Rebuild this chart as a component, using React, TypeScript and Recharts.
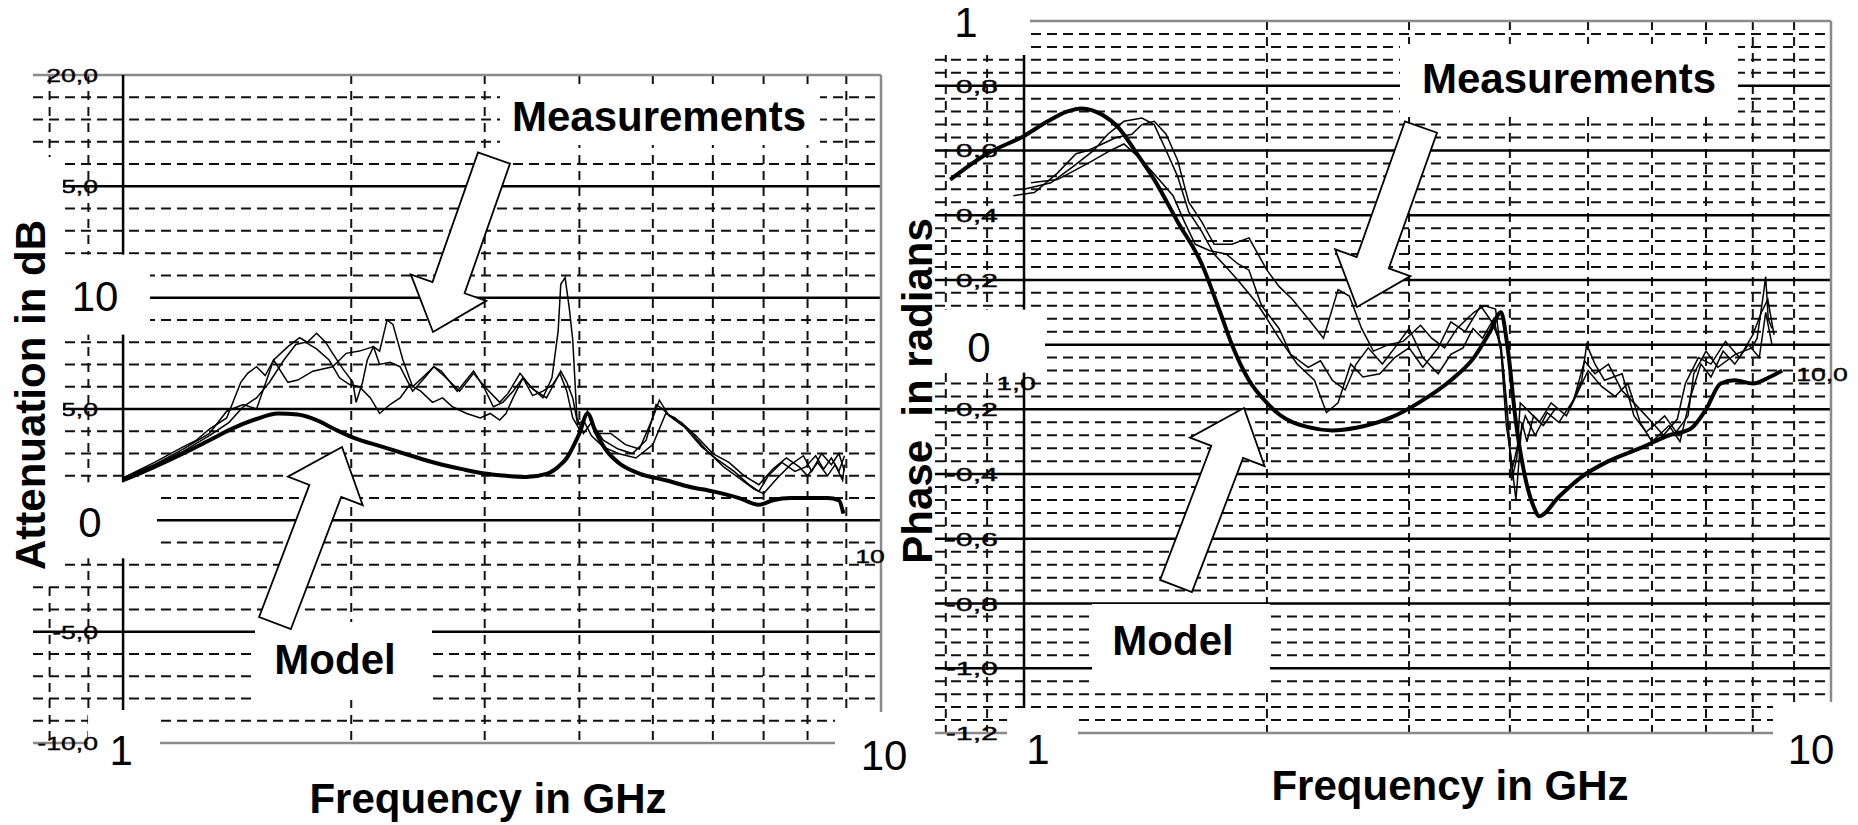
import React from "react";
import { CartesianGrid, Line, LineChart, XAxis, YAxis } from "recharts";

type Pt = { f: number; v: number };
const pts = (rows: number[][]): Pt[] => rows.map(([f, v]) => ({ f, v }));

// ---- attenuation panel (dB vs GHz) ----
const attModel = pts([
  [1.0, 1.8], [1.05, 2.1], [1.1, 2.4], [1.15, 2.7], [1.2, 3.0], [1.3, 3.6], [1.4, 4.15], [1.5, 4.55],
  [1.6, 4.8], [1.7, 4.75], [1.8, 4.5], [1.9, 4.1], [2.0, 3.75], [2.2, 3.3], [2.4, 2.9], [2.6, 2.55],
  [2.8, 2.3], [3.0, 2.1], [3.2, 2.0], [3.4, 1.95], [3.63, 2.1], [3.75, 2.4], [3.85, 2.8], [3.95, 3.5],
  [4.0, 3.9], [4.1, 4.8], [4.2, 4.0], [4.35, 3.1], [4.5, 2.6], [4.8, 2.1], [5.2, 1.8], [5.6, 1.5],
  [6.0, 1.3], [6.5, 1.0], [6.9, 0.7], [7.2, 0.9], [7.6, 1.0], [8.0, 1.0], [8.5, 1.0], [8.8, 0.9], [8.92, 0.3],
]);

const attMeas1 = pts([
  [1.0, 1.9], [1.1, 2.6], [1.2, 3.3], [1.25, 3.6], [1.3, 4.1], [1.37, 4.6], [1.43, 6.2], [1.46, 6.6],
  [1.5, 6.9], [1.54, 6.5], [1.58, 7.2], [1.65, 7.8], [1.71, 8.2], [1.75, 8.0], [1.8, 8.4], [1.85, 8.0],
  [1.89, 7.5], [1.95, 6.8], [2.01, 6.2], [2.03, 5.3], [2.07, 6.2], [2.1, 7.2], [2.14, 7.8], [2.18, 7.6],
  [2.23, 9.0], [2.27, 8.8], [2.34, 7.2], [2.41, 6.0], [2.5, 6.5], [2.57, 6.9], [2.65, 6.5], [2.78, 5.8],
  [2.9, 6.6], [3.0, 6.0], [3.14, 5.3], [3.22, 5.7], [3.34, 6.6], [3.45, 6.0], [3.58, 5.5], [3.68, 6.4],
  [3.75, 8.5], [3.78, 10.6], [3.83, 10.9], [3.88, 9.5], [3.92, 8.1], [3.97, 4.6], [4.05, 3.9], [4.15, 4.4],
  [4.3, 3.6], [4.5, 3.2], [4.7, 3.0], [4.9, 3.6], [5.05, 5.2], [5.15, 5.0], [5.3, 4.6], [5.5, 4.2],
  [5.8, 3.3], [6.1, 2.7], [6.4, 2.2], [6.7, 1.6], [6.9, 1.3], [7.1, 2.0], [7.4, 2.6], [7.7, 2.2],
  [7.95, 2.4], [8.2, 2.9], [8.4, 2.3], [8.6, 2.8], [8.8, 2.2], [8.95, 2.9],
]);

const attMeas2 = pts([
  [1.0, 1.9], [1.1, 2.5], [1.2, 3.2], [1.3, 3.9], [1.37, 4.9], [1.44, 5.2], [1.5, 5.0], [1.58, 7.2],
  [1.65, 6.2], [1.7, 6.3], [1.78, 6.7], [1.89, 6.9], [1.97, 7.5], [2.05, 7.6], [2.14, 7.8], [2.18, 7.0],
  [2.25, 7.1], [2.32, 6.9], [2.41, 5.8], [2.5, 6.4], [2.57, 6.9], [2.63, 6.7], [2.76, 5.8], [2.9, 6.7],
  [3.0, 5.9], [3.08, 5.1], [3.17, 5.3], [3.27, 5.8], [3.37, 6.4], [3.47, 5.6], [3.58, 5.8], [3.69, 6.1],
  [3.77, 6.6], [3.85, 5.8], [3.92, 4.6], [4.0, 4.1], [4.1, 4.9], [4.2, 3.9], [4.4, 3.9], [4.6, 3.4],
  [4.8, 3.2], [5.0, 4.6], [5.1, 5.4], [5.25, 4.7], [5.45, 4.4], [5.7, 3.8], [6.0, 3.0], [6.3, 2.6],
  [6.6, 2.0], [6.9, 1.6], [7.2, 2.3], [7.5, 2.8], [7.8, 2.4], [8.0, 2.0], [8.25, 2.6], [8.5, 2.0],
  [8.7, 2.5], [8.9, 1.8], [8.95, 2.5],
]);

const attMeas3 = pts([
  [1.0, 1.9], [1.1, 2.5], [1.2, 3.1], [1.3, 3.8], [1.38, 4.4], [1.44, 5.1], [1.5, 5.5], [1.56, 6.2],
  [1.63, 7.2], [1.69, 7.9], [1.74, 8.0], [1.8, 7.7], [1.87, 7.2], [1.93, 6.4], [1.99, 6.1], [2.05, 6.0],
  [2.12, 5.5], [2.18, 4.8], [2.25, 5.2], [2.32, 5.5], [2.39, 6.1], [2.47, 5.8], [2.56, 5.3], [2.64, 5.5],
  [2.72, 5.1], [2.84, 4.8], [2.96, 4.6], [3.05, 4.8], [3.14, 4.5], [3.2, 4.8], [3.27, 5.5], [3.37, 6.4],
  [3.47, 5.9], [3.62, 5.5], [3.7, 6.1], [3.78, 6.7], [3.85, 6.2], [3.92, 5.5], [3.98, 4.3], [4.05, 4.5],
  [4.15, 3.8], [4.3, 3.3], [4.5, 3.0], [4.75, 2.8], [5.0, 3.4], [5.2, 4.8], [5.35, 4.6], [5.6, 4.0],
  [5.9, 3.1], [6.2, 2.4], [6.5, 1.9], [6.8, 1.4], [7.0, 1.2], [7.3, 1.9], [7.6, 2.5], [7.9, 2.9],
  [8.1, 2.2], [8.35, 3.0], [8.6, 2.5], [8.8, 3.0], [8.95, 2.2],
]);

// ---- phase panel (rad vs GHz) ----
const phaseModel = pts([
  [0.81, 0.51], [0.9, 0.59], [1.0, 0.645], [1.07, 0.69], [1.13, 0.72], [1.18, 0.73], [1.25, 0.71],
  [1.31, 0.67], [1.38, 0.59], [1.45, 0.51], [1.55, 0.38], [1.66, 0.25], [1.75, 0.1], [1.81, 0.0],
  [1.9, -0.11], [2.0, -0.18], [2.07, -0.215], [2.25, -0.255], [2.41, -0.265], [2.58, -0.257],
  [2.85, -0.225], [3.1, -0.176], [3.38, -0.11], [3.61, -0.04], [3.78, 0.04], [3.9, 0.1], [3.97, 0.0],
  [4.07, -0.24], [4.17, -0.4], [4.28, -0.5], [4.35, -0.53], [4.6, -0.47], [4.9, -0.41], [5.3, -0.36],
  [5.8, -0.32], [6.3, -0.28], [6.7, -0.26], [7.0, -0.2], [7.3, -0.12], [7.6, -0.11], [8.0, -0.12],
  [8.4, -0.1], [8.7, -0.08],
]);

const phaseMeas1 = pts([
  [0.97, 0.46], [1.03, 0.47], [1.1, 0.53], [1.16, 0.59], [1.2, 0.6], [1.25, 0.62], [1.3, 0.64],
  [1.36, 0.65], [1.4, 0.68], [1.45, 0.69], [1.5, 0.65], [1.55, 0.57], [1.6, 0.44], [1.66, 0.38],
  [1.72, 0.31], [1.81, 0.31], [1.9, 0.33], [2.0, 0.23], [2.07, 0.18], [2.15, 0.14], [2.25, 0.08],
  [2.35, 0.02], [2.45, 0.17], [2.53, 0.15], [2.62, 0.05], [2.71, -0.02], [2.83, 0.0], [2.95, 0.01],
  [3.1, 0.06], [3.2, 0.02], [3.32, -0.01], [3.44, 0.05], [3.61, 0.1], [3.72, 0.12], [3.84, 0.11],
  [3.93, -0.09], [4.0, -0.32], [4.07, -0.48], [4.14, -0.24], [4.2, -0.3], [4.28, -0.22], [4.4, -0.25],
  [4.55, -0.2], [4.74, -0.2], [4.91, -0.11], [4.98, 0.0], [5.1, -0.06], [5.24, -0.11], [5.51, -0.09],
  [5.7, -0.22], [5.9, -0.27], [6.1, -0.24], [6.22, -0.22], [6.43, -0.27], [6.65, -0.22], [6.76, -0.09],
  [7.0, -0.02], [7.24, -0.07], [7.61, -0.03], [7.98, -0.01], [8.1, 0.02], [8.24, 0.15], [8.3, 0.21],
  [8.36, 0.08], [8.45, 0.05],
]);

const phaseMeas2 = pts([
  [1.0, 0.48], [1.08, 0.5], [1.15, 0.55], [1.22, 0.6], [1.27, 0.65], [1.33, 0.69], [1.4, 0.7],
  [1.45, 0.68], [1.5, 0.6], [1.55, 0.52], [1.6, 0.41], [1.66, 0.35], [1.72, 0.28], [1.78, 0.24],
  [1.84, 0.2], [1.94, 0.13], [2.0, 0.08], [2.07, 0.02], [2.18, -0.06], [2.29, -0.11], [2.37, -0.21],
  [2.45, -0.18], [2.54, -0.06], [2.63, -0.1], [2.76, -0.09], [2.88, -0.04], [3.0, -0.01], [3.12, -0.07],
  [3.26, -0.01], [3.38, 0.07], [3.52, 0.04], [3.68, 0.12], [3.8, 0.07], [3.9, 0.0], [3.97, -0.2],
  [4.02, -0.42], [4.08, -0.35], [4.12, -0.18], [4.2, -0.2], [4.35, -0.24], [4.5, -0.18], [4.7, -0.22],
  [4.85, -0.15], [5.0, -0.08], [5.2, -0.13], [5.4, -0.16], [5.6, -0.12], [5.8, -0.24], [6.0, -0.3],
  [6.3, -0.25], [6.5, -0.3], [6.7, -0.16], [6.9, -0.06], [7.1, -0.1], [7.35, -0.02], [7.6, -0.06],
  [7.9, 0.0], [8.15, -0.04], [8.3, 0.1], [8.45, 0.0],
]);

const phaseMeas3 = pts([
  [1.02, 0.5], [1.1, 0.51], [1.2, 0.56], [1.28, 0.6], [1.33, 0.62], [1.4, 0.57], [1.47, 0.51],
  [1.53, 0.46], [1.58, 0.38], [1.63, 0.31], [1.7, 0.29], [1.78, 0.28], [1.84, 0.25], [1.9, 0.23],
  [1.97, 0.12], [2.07, 0.05], [2.14, -0.03], [2.25, -0.07], [2.33, -0.05], [2.41, -0.11], [2.5, -0.14],
  [2.58, -0.06], [2.67, -0.01], [2.78, -0.06], [2.9, 0.0], [3.0, 0.05], [3.12, -0.04], [3.26, -0.09],
  [3.38, -0.03], [3.5, -0.01], [3.6, 0.05], [3.7, 0.02], [3.82, 0.08], [3.9, -0.02], [3.96, -0.25],
  [4.03, -0.38], [4.1, -0.3], [4.18, -0.22], [4.3, -0.28], [4.45, -0.21], [4.6, -0.24], [4.8, -0.17],
  [4.95, -0.05], [5.1, -0.09], [5.3, -0.06], [5.5, -0.14], [5.75, -0.19], [6.0, -0.24], [6.2, -0.28],
  [6.45, -0.23], [6.6, -0.12], [6.85, -0.04], [7.1, -0.06], [7.4, 0.01], [7.7, -0.04], [8.0, 0.03],
  [8.2, 0.1], [8.35, 0.14], [8.5, 0.03],
]);

// ---- ticks / grid values ----
const freqTicks = [1, 10];
const freqMinor = [0.8, 0.9, 2, 3, 4, 5, 6, 7, 8, 9];

const attTicks = [-10, -5, 0, 5, 10, 15, 20];
const attSolid = [-5, 0, 5, 10, 15];
const attEdge = [-10, 20];
const attMinor = [-9, -8, -7, -6, -4, -3, -2, -1, 1, 2, 3, 4, 6, 7, 8, 9, 11, 12, 13, 14, 16, 17, 18, 19];

const phaseTicks = [-1.2, -1.0, -0.8, -0.6, -0.4, -0.2, 0, 0.2, 0.4, 0.6, 0.8, 1.0];
const phaseSolid = [-1.0, -0.8, -0.6, -0.4, -0.2, 0, 0.2, 0.4, 0.6, 0.8];
const phaseEdge = [-1.2, 1.0];
const phaseMinor = [
  -1.16, -1.12, -1.08, -1.04, -0.96, -0.92, -0.88, -0.84, -0.76, -0.72, -0.68, -0.64,
  -0.56, -0.52, -0.48, -0.44, -0.36, -0.32, -0.28, -0.24, -0.16, -0.12, -0.08, -0.04,
  0.04, 0.08, 0.12, 0.16, 0.24, 0.28, 0.32, 0.36, 0.44, 0.48, 0.52, 0.56,
  0.64, 0.68, 0.72, 0.76, 0.84, 0.88, 0.92, 0.96,
];

const FONT = "'Liberation Sans', Arial, Helvetica, sans-serif";

type Box = { text: string; x0: number; x1: number; y0: number; y1: number; dx: number; dy: number };

function bigLabel(x: number, y: number, b: Box) {
  return (
    <g>
      <rect x={x + b.x0} y={y + b.y0} width={b.x1 - b.x0} height={b.y1 - b.y0} fill="#fff" />
      <text x={x + b.dx} y={y + b.dy + 15} textAnchor="middle" fontFamily={FONT} fontSize={42} fill="#000">
        {b.text}
      </text>
    </g>
  );
}

const excel = (v: number) => v.toFixed(1).replace(".", ",");

function makeYTick(big: Record<string, Box>, smallX: number, stretch: number) {
  return (props: any) => {
    const { x, y, payload } = props;
    const b = big[String(payload.value)];
    if (b) return bigLabel(x, y, b);
    return (
      <text
        transform={`translate(${x + smallX},${y + 7}) scale(${stretch},1)`}
        textAnchor="end"
        fontFamily={FONT}
        fontSize={19}
        fill="#000"
        stroke="#000"
        strokeWidth={0.4}
      >
        {excel(payload.value)}
      </text>
    );
  };
}

function makeXTick(big: Record<string, Box>) {
  return (props: any) => {
    const { x, y, payload } = props;
    const b = big[String(payload.value)];
    return b ? bigLabel(x, y, b) : <g />;
  };
}

const attYTick = makeYTick(
  {
    "10": { text: "10", x0: 24, x1: 117, y0: -43, y1: 37, dx: 62, dy: -2 },
    "0": { text: "0", x0: 24, x1: 124, y0: -38, y1: 38, dx: 57, dy: 2 },
  },
  65,
  1.4
);
const attXTick = makeXTick({
  "1": { text: "1", x0: -35, x1: 37, y0: -33, y1: 82, dx: -2, dy: 7 },
  "10": { text: "10", x0: -46, x1: 49, y0: -31, y1: 82, dx: 3, dy: 12 },
});
const phaseYTick = makeYTick(
  {
    "1": { text: "1", x0: -5, x1: 95, y0: -21, y1: 34, dx: 31, dy: 1 },
    "0": { text: "0", x0: -5, x1: 110, y0: -35, y1: 28, dx: 44, dy: 2 },
  },
  63,
  1.6
);
const phaseXTick = makeXTick({
  "1": { text: "1", x0: -17, x1: 54, y0: -25, y1: 92, dx: 14, dy: 16 },
  "10": { text: "10", x0: -58, x1: 27, y0: -31, y1: 92, dx: -20, dy: 16 },
});

function arrowPoints(tx: number, ty: number, px: number, py: number) {
  const s = 17, h = 40, L = 47;
  const len = Math.hypot(px - tx, py - ty);
  const ux = (px - tx) / len, uy = (py - ty) / len;
  const nx = -uy, ny = ux;
  const bx = px - ux * L, by = py - uy * L;
  const p = [
    [tx + nx * s, ty + ny * s], [bx + nx * s, by + ny * s], [bx + nx * h, by + ny * h], [px, py],
    [bx - nx * h, by - ny * h], [bx - nx * s, by - ny * s], [tx - nx * s, ty - ny * s],
  ];
  return p.map((q) => q.map((n) => n.toFixed(1)).join(",")).join(" ");
}

const titleStyle = { fontFamily: FONT, fontSize: 42, fontWeight: 700, fill: "#000" } as const;
const smallStyle = { fontFamily: FONT, fontSize: 19, fill: "#000", stroke: "#000", strokeWidth: 0.4 } as const;

function Panel({
  left, width, margin, xMin, yDomain, yTicks, solid, edge, minor, model, meas, xTick, yTick,
}: any) {
  return (
    <div style={{ position: "absolute", left, top: 0 }}>
      <LineChart width={width} height={825} margin={margin}>
        <CartesianGrid horizontal vertical={false} horizontalValues={minor} stroke="#111" strokeWidth={2} strokeDasharray="10 6" />
        <CartesianGrid horizontal={false} vertical verticalValues={freqMinor} stroke="#111" strokeWidth={2} strokeDasharray="9 7" />
        <CartesianGrid horizontal vertical={false} horizontalValues={solid} stroke="#000" strokeWidth={2.5} />
        <CartesianGrid horizontal vertical horizontalValues={edge} verticalValues={[10]} stroke="#8a8a8a" strokeWidth={2.5} />
        <CartesianGrid horizontal={false} vertical verticalValues={[1]} stroke="#000" strokeWidth={2.5} />
        {meas.map((d: Pt[], i: number) => (
          <Line key={i} data={d} dataKey="v" type="linear" stroke="#000" strokeWidth={1.5} dot={false} isAnimationActive={false} />
        ))}
        <Line data={model} dataKey="v" type="monotone" stroke="#000" strokeWidth={4} dot={false} isAnimationActive={false} />
        <XAxis
          type="number" dataKey="f" scale="log" domain={[xMin, 10]} allowDataOverflow ticks={freqTicks} interval={0}
          height={1} tickSize={0} tickMargin={0} axisLine={false} tickLine={false} tick={xTick}
        />
        <YAxis
          type="number" domain={yDomain} allowDataOverflow ticks={yTicks} interval={0}
          width={1} tickSize={0} tickMargin={0} axisLine={false} tickLine={false} tick={yTick}
        />
      </LineChart>
    </div>
  );
}

export default function App() {
  return (
    <div style={{ position: "absolute", left: 0, top: 0, width: 1858, height: 825, background: "#fff", overflow: "hidden" }}>
      <Panel
        left={0} width={930} margin={{ top: 75, right: 49, bottom: 81, left: 32 }} xMin={0.7606}
        yDomain={[-10, 20]} yTicks={attTicks} solid={attSolid} edge={attEdge} minor={attMinor}
        model={attModel} meas={[attMeas1, attMeas2, attMeas3]} xTick={attXTick} yTick={attYTick}
      />
      <Panel
        left={930} width={928} margin={{ top: 21, right: 27, bottom: 91, left: 4 }} xMin={0.7757}
        yDomain={[-1.2, 1.0]} yTicks={phaseTicks} solid={phaseSolid} edge={phaseEdge} minor={phaseMinor}
        model={phaseModel} meas={[phaseMeas1, phaseMeas2, phaseMeas3]} xTick={phaseXTick} yTick={phaseYTick}
      />
      <svg width={1858} height={825} style={{ position: "absolute", left: 0, top: 0, pointerEvents: "none" }}>
        <rect x={0} y={157} width={63} height={428} fill="#fff" />
        <text transform="translate(881,563) scale(1.4,1)" textAnchor="middle" style={smallStyle}>10,0</text>
        <rect x={885} y={520} width={45} height={70} fill="#fff" />
        <text transform="translate(1822,381) scale(1.4,1)" textAnchor="middle" style={smallStyle}>10,0</text>
        <text transform="translate(1016,390) scale(1.5,1)" textAnchor="middle" style={smallStyle}>1,0</text>

        <text transform="translate(45,395) rotate(-90)" textAnchor="middle" style={titleStyle}>Attenuation in dB</text>
        <text transform="translate(932,391) rotate(-90)" textAnchor="middle" style={{ ...titleStyle, whiteSpace: "pre" }}>Phase  in radians</text>
        <text x={488} y={813} textAnchor="middle" style={titleStyle}>Frequency in GHz</text>
        <text x={1450} y={800} textAnchor="middle" style={titleStyle}>Frequency in GHz</text>

        <rect x={500} y={88} width={320} height={57} fill="#fff" />
        <text x={659} y={131} textAnchor="middle" style={titleStyle}>Measurements</text>
        <rect x={255} y={622} width={177} height={78} fill="#fff" />
        <text x={335} y={674} textAnchor="middle" style={titleStyle}>Model</text>
        <rect x={1400} y={44} width={338} height={71} fill="#fff" />
        <text x={1569} y={93} textAnchor="middle" style={titleStyle}>Measurements</text>
        <rect x={1092} y={604} width={178} height={82} fill="#fff" />
        <text x={1173} y={655} textAnchor="middle" style={titleStyle}>Model</text>

        <g fill="#fff" stroke="#000" strokeWidth={1.8} strokeLinejoin="miter">
          <polygon points={arrowPoints(494, 158, 433, 332)} />
          <polygon points={arrowPoints(275, 623, 342, 447)} />
          <polygon points={arrowPoints(1421, 127, 1357, 307)} />
          <polygon points={arrowPoints(1176, 586, 1244, 408)} />
        </g>
      </svg>
    </div>
  );
}
